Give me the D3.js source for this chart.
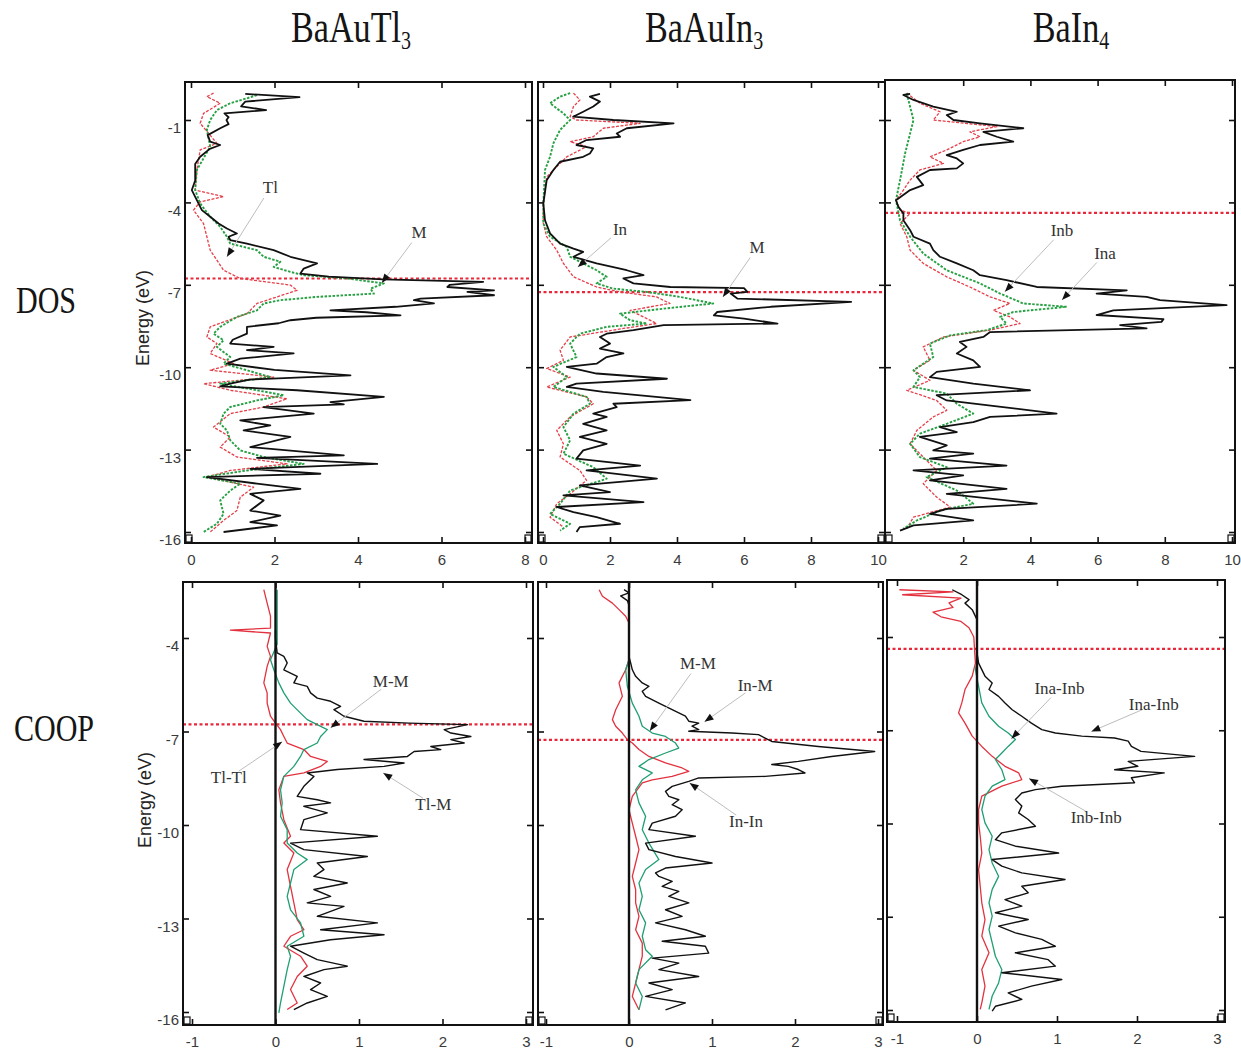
<!DOCTYPE html>
<html>
<head>
<meta charset="utf-8">
<script src="https://cdn.jsdelivr.net/npm/d3@7"></script>
<style>body{margin:0;background:#fff}</style>
</head>
<body>
<script>
// ---- data: [energy (eV), value] ----
var compounds = ["BaAuTl", "BaAuIn", "BaIn"];
var compoundSubs = ["3", "3", "4"];
var rowNames = ["DOS", "COOP"];
var fermiLevels = [-6.77, -7.27, -4.38];
var dosXTicks = [[0, 2, 4, 6, 8], [0, 2, 4, 6, 8, 10], [2, 4, 6, 8, 10]];
var coopXTicks = [-1, 0, 1, 2, 3];
var dosYTicks = [-1, -4, -7, -10, -13, -16];
var coopYTicks = [-4, -7, -10, -13, -16];

// BaAuTl3 DOS
var tlTotal = [[-0.05,1.3],[-0.17,2.6],[-0.33,1.3],[-0.5,1.2],[-0.64,1.8],[-0.76,0.8],[-0.9,0.9],[-1.0,0.85],[-1.15,0.9],[-1.3,0.7],[-1.55,0.4],[-1.79,0.46],[-1.91,0.7],[-2.05,0.45],[-2.34,0.22],[-2.6,0.1],[-3.2,0.1],[-3.55,0.02],[-3.92,0.14],[-4.28,0.26],[-4.52,0.46],[-4.77,0.66],[-4.95,0.86],[-5.13,1.1],[-5.25,0.9],[-5.37,0.94],[-5.5,1.34],[-5.74,1.98],[-5.98,2.38],[-6.1,2.7],[-6.22,3.02],[-6.41,2.7],[-6.59,2.62],[-6.7,3.3],[-6.8,4.6],[-6.89,7.0],[-7.0,6.2],[-7.08,6.14],[-7.2,7.26],[-7.26,6.62],[-7.38,7.26],[-7.5,5.5],[-7.56,5.34],[-7.68,5.82],[-7.8,4.9],[-7.93,3.34],[-8.0,4.2],[-8.11,5.02],[-8.2,3.0],[-8.29,2.38],[-8.4,2.1],[-8.53,1.34],[-8.78,1.34],[-9.0,1.0],[-9.14,0.94],[-9.26,1.98],[-9.38,1.34],[-9.5,2.46],[-9.69,1.18],[-9.87,0.86],[-10.1,2.0],[-10.3,3.82],[-10.45,1.4],[-10.6,0.94],[-10.7,0.7],[-10.84,2.54],[-11.08,4.62],[-11.27,3.34],[-11.35,3.66],[-11.45,1.74],[-11.69,2.94],[-11.94,1.18],[-12.12,1.9],[-12.3,1.26],[-12.54,2.38],[-12.91,1.42],[-13.21,3.66],[-13.3,1.58],[-13.52,4.46],[-13.7,1.42],[-13.88,3.1],[-14.0,0.38],[-14.24,1.58],[-14.43,2.62],[-14.61,1.42],[-14.85,1.74],[-15.22,1.42],[-15.4,2.14],[-15.64,1.42],[-15.76,2.06],[-16.0,0.78]];
var tlM = [[-0.09,1.58],[-0.21,1.34],[-0.39,0.94],[-0.64,0.62],[-1.0,0.46],[-1.36,0.38],[-1.97,0.46],[-2.82,0.14],[-3.55,0.1],[-4.04,0.22],[-4.52,0.46],[-4.89,0.7],[-5.25,0.86],[-5.5,0.94],[-5.74,1.58],[-5.98,1.74],[-6.16,2.14],[-6.35,1.98],[-6.53,2.38],[-6.65,2.7],[-6.77,3.74],[-6.95,4.62],[-7.14,4.3],[-7.32,4.38],[-7.44,3.02],[-7.56,2.14],[-7.68,1.74],[-7.93,1.58],[-8.17,1.1],[-8.53,0.7],[-8.78,0.54],[-9.02,0.78],[-9.26,0.62],[-9.63,0.94],[-9.87,0.78],[-10.11,1.34],[-10.36,1.9],[-10.6,0.7],[-10.84,1.58],[-11.02,2.22],[-11.21,1.58],[-11.45,0.94],[-11.69,0.78],[-12.06,0.7],[-12.3,0.86],[-12.66,0.94],[-13.03,1.18],[-13.27,1.74],[-13.52,2.7],[-13.76,1.34],[-14.0,0.3],[-14.24,1.18],[-14.49,0.94],[-14.85,0.7],[-15.34,0.78],[-15.7,0.62],[-16.0,0.3]];
var tlTl = [[-0.02,0.54],[-0.15,0.38],[-0.39,0.7],[-0.76,0.3],[-1.12,0.22],[-1.85,0.62],[-2.09,0.22],[-2.82,0.14],[-3.55,0.1],[-3.79,0.78],[-3.98,0.22],[-4.28,0.06],[-4.77,0.3],[-5.25,0.38],[-5.74,0.46],[-6.1,0.62],[-6.47,0.78],[-6.77,1.18],[-7.01,2.38],[-7.2,2.54],[-7.44,2.06],[-7.68,1.58],[-8.05,1.34],[-8.53,0.46],[-8.9,0.38],[-9.14,0.62],[-9.5,0.46],[-9.87,1.02],[-10.11,0.46],[-10.36,1.98],[-10.6,0.3],[-10.84,0.94],[-11.15,2.3],[-11.45,1.74],[-11.69,0.94],[-12.18,0.54],[-12.54,0.94],[-12.91,0.7],[-13.27,1.1],[-13.52,2.3],[-13.76,0.94],[-14.0,0.38],[-14.37,1.5],[-14.73,1.18],[-15.22,1.1],[-15.58,0.78],[-16.0,0.46]];

// BaAuIn3 DOS
var inTotal = [[-0.05,1.7],[-0.15,1.4],[-0.33,1.7],[-0.51,1.5],[-0.7,1.2],[-0.88,0.9],[-1.0,2.1],[-1.12,3.9],[-1.3,2.5],[-1.49,2.2],[-1.61,2.3],[-1.73,1.3],[-1.91,1.0],[-2.03,1.5],[-2.22,1.4],[-2.34,1.2],[-2.52,0.51],[-2.82,0.31],[-3.19,0.11],[-4.04,0.01],[-4.65,0.06],[-5.13,0.21],[-5.5,0.51],[-5.68,0.91],[-5.8,1.2],[-5.98,0.91],[-6.22,1.6],[-6.47,2.5],[-6.65,3.0],[-6.77,2.4],[-6.95,2.7],[-7.08,3.8],[-7.12,6.0],[-7.26,6.1],[-7.32,5.6],[-7.5,5.8],[-7.62,9.2],[-7.8,6.8],[-7.99,5.2],[-8.11,5.1],[-8.23,6.0],[-8.41,7.0],[-8.47,3.6],[-8.65,2.7],[-8.78,1.9],[-8.9,1.7],[-9.14,2.0],[-9.32,1.7],[-9.5,2.4],[-9.63,1.9],[-9.87,1.6],[-9.99,0.71],[-10.23,1.6],[-10.42,3.7],[-10.6,1.0],[-10.72,0.71],[-10.9,1.8],[-11.2,4.4],[-11.33,2.1],[-11.45,2.2],[-11.69,1.5],[-11.81,1.9],[-12.06,1.2],[-12.3,1.9],[-12.54,1.1],[-12.79,1.9],[-13.03,1.2],[-13.33,1.0],[-13.58,2.9],[-13.76,1.3],[-14.06,3.4],[-14.3,1.1],[-14.55,2.0],[-14.67,0.61],[-14.91,3.0],[-15.09,0.41],[-15.28,0.91],[-15.46,1.6],[-15.7,2.3],[-15.82,1.1],[-16.0,1.0]];
var inM = [[-0.02,0.81],[-0.15,0.51],[-0.39,0.21],[-0.76,0.61],[-1.0,0.81],[-1.36,0.51],[-1.85,0.31],[-2.34,0.21],[-2.82,0.06],[-4.04,0.01],[-4.77,0.01],[-5.25,0.21],[-5.62,0.71],[-5.98,0.81],[-6.22,1.2],[-6.47,1.6],[-6.71,1.9],[-6.95,1.6],[-7.14,2.1],[-7.26,3.1],[-7.44,4.09],[-7.68,5.08],[-7.87,3.59],[-8.05,2.3],[-8.29,2.6],[-8.41,3.1],[-8.53,1.9],[-8.78,1.1],[-9.14,0.81],[-9.63,1.0],[-9.99,0.31],[-10.36,0.71],[-10.72,0.31],[-11.08,1.3],[-11.33,1.4],[-11.69,0.91],[-12.18,0.61],[-12.66,0.81],[-13.15,0.61],[-13.64,1.5],[-14.06,1.9],[-14.49,0.81],[-14.97,0.51],[-15.34,0.21],[-15.7,0.81],[-15.95,0.51]];
var inIn = [[-0.02,0.91],[-0.27,1.1],[-0.51,0.91],[-0.88,0.81],[-1.0,1.0],[-1.12,2.9],[-1.3,1.8],[-1.61,1.5],[-1.79,0.81],[-1.97,1.3],[-2.34,0.71],[-2.7,0.41],[-3.07,0.11],[-4.04,0.01],[-4.77,0.01],[-5.25,0.11],[-5.74,0.41],[-6.22,0.61],[-6.71,0.91],[-7.08,1.6],[-7.26,2.3],[-7.44,3.39],[-7.68,3.79],[-7.93,2.6],[-8.17,3.0],[-8.41,3.39],[-8.59,2.4],[-8.9,0.81],[-9.38,0.51],[-9.75,0.61],[-10.05,0.11],[-10.36,0.81],[-10.72,0.11],[-11.08,1.3],[-11.33,1.5],[-11.81,0.81],[-12.3,0.41],[-12.79,0.61],[-13.27,0.51],[-13.76,1.1],[-14.12,1.3],[-14.61,0.81],[-14.97,0.41],[-15.46,0.21],[-15.82,0.61]];

// BaIn4 DOS
var in4Total = [[-0.05,0.42],[-0.09,0.22],[-0.27,0.52],[-0.51,1.11],[-0.7,1.81],[-0.82,1.51],[-1.0,1.71],[-1.12,2.5],[-1.3,3.79],[-1.43,2.6],[-1.61,3.0],[-1.79,3.49],[-1.91,2.5],[-2.09,2.0],[-2.28,1.51],[-2.4,1.81],[-2.58,2.0],[-2.76,1.81],[-2.82,1.01],[-3.07,0.62],[-3.37,0.81],[-3.55,0.42],[-3.92,0.0],[-4.16,0.07],[-4.4,0.22],[-4.65,0.22],[-5.01,0.42],[-5.25,0.52],[-5.5,1.01],[-5.74,1.11],[-5.98,1.31],[-6.22,1.81],[-6.47,2.3],[-6.65,2.5],[-6.83,3.29],[-7.08,4.19],[-7.2,6.87],[-7.32,5.97],[-7.44,7.46],[-7.56,7.86],[-7.74,9.84],[-7.93,6.47],[-8.1,5.97],[-8.25,7.96],[-8.35,7.9],[-8.47,6.67],[-8.59,7.46],[-8.72,2.8],[-8.9,2.6],[-9.08,1.9],[-9.26,2.1],[-9.5,1.81],[-9.75,2.3],[-9.99,2.5],[-10.17,1.21],[-10.36,1.01],[-10.6,2.3],[-10.84,3.99],[-11.02,1.21],[-11.21,1.51],[-11.45,3.19],[-11.69,4.78],[-11.81,2.8],[-12.0,2.3],[-12.18,1.31],[-12.36,1.81],[-12.54,0.71],[-12.85,1.51],[-13.03,1.11],[-13.15,2.3],[-13.33,1.01],[-13.58,3.29],[-13.76,0.52],[-13.94,2.0],[-14.12,1.01],[-14.43,3.29],[-14.61,1.51],[-14.97,4.19],[-15.16,1.51],[-15.34,1.01],[-15.58,2.3],[-15.76,0.52],[-15.95,0.12]];
var in4Ina = [[-0.03,0.32],[-1.0,0.52],[-2.22,0.27],[-3.19,0.12],[-3.92,0.0],[-4.65,0.12],[-5.25,0.42],[-5.86,0.81],[-6.47,1.51],[-6.95,2.5],[-7.32,3.1],[-7.68,3.79],[-7.8,5.08],[-7.99,3.49],[-8.17,3.1],[-8.41,3.29],[-8.65,2.7],[-8.84,1.61],[-9.14,1.01],[-9.63,1.11],[-10.11,0.52],[-10.36,0.71],[-10.72,0.52],[-10.96,1.51],[-11.33,1.81],[-11.69,2.3],[-12.06,1.51],[-12.42,0.71],[-12.79,0.42],[-13.27,0.71],[-13.64,1.51],[-14.0,0.91],[-14.49,1.81],[-14.97,2.3],[-15.22,1.31],[-15.58,0.62],[-15.88,0.22]];
var in4Inb = [[-0.02,0.32],[-0.39,0.71],[-0.7,1.31],[-1.0,1.11],[-1.24,3.0],[-1.43,2.2],[-1.61,2.5],[-1.79,2.0],[-2.09,1.51],[-2.34,1.01],[-2.58,1.41],[-2.82,0.71],[-3.19,0.42],[-3.55,0.22],[-3.92,0.0],[-4.28,0.12],[-4.4,0.42],[-4.77,0.12],[-5.25,0.32],[-5.74,0.42],[-6.22,0.81],[-6.71,1.51],[-7.08,2.2],[-7.44,2.8],[-7.68,3.39],[-7.93,2.9],[-8.17,3.39],[-8.41,3.69],[-8.65,2.8],[-8.9,1.41],[-9.26,0.81],[-9.75,1.01],[-10.11,0.52],[-10.48,1.01],[-10.84,0.32],[-11.21,1.21],[-11.57,1.51],[-11.81,1.11],[-12.3,0.62],[-12.79,0.42],[-13.27,0.81],[-13.76,1.21],[-14.24,0.81],[-14.73,1.21],[-15.09,1.61],[-15.46,0.52],[-15.88,0.32]];

// BaAuTl3 COOP
var coopTlM = [[-3.75,0],[-4.0,0],[-4.48,0.02],[-4.59,0.1],[-4.8,0.14],[-5.02,0.1],[-5.23,0.26],[-5.44,0.22],[-5.55,0.38],[-5.76,0.42],[-5.93,0.5],[-6.03,0.66],[-6.19,0.78],[-6.3,0.7],[-6.51,0.82],[-6.67,1.06],[-6.73,1.6],[-6.78,2.3],[-6.94,2.02],[-7.05,2.1],[-7.16,2.34],[-7.26,2.1],[-7.37,2.26],[-7.48,1.86],[-7.58,1.98],[-7.64,1.66],[-7.8,1.58],[-7.9,1.06],[-8.01,1.54],[-8.12,1.3],[-8.22,0.74],[-8.33,0.38],[-8.44,0.46],[-8.76,0.34],[-9.08,0.26],[-9.19,0.5],[-9.29,0.66],[-9.4,0.34],[-9.61,0.62],[-9.83,0.34],[-10.15,0.3],[-10.36,1.22],[-10.58,0.18],[-10.79,0.34],[-11.01,1.1],[-11.22,0.5],[-11.43,0.58],[-11.65,0.46],[-11.86,0.86],[-12.07,0.46],[-12.29,0.66],[-12.5,0.38],[-12.61,0.82],[-12.93,0.5],[-13.14,1.22],[-13.36,0.54],[-13.52,1.3],[-13.68,0.66],[-13.89,0.18],[-14.11,0.34],[-14.32,0.5],[-14.53,0.86],[-14.64,0.58],[-14.86,0.34],[-15.07,0.54],[-15.28,0.42],[-15.5,0.62],[-15.71,0.38],[-15.92,0.22]];
var coopTlMM = [[-2.45,0.02],[-4.2,0.02],[-4.7,-0.06],[-5.02,-0.02],[-5.44,0.04],[-5.76,0.1],[-6.09,0.18],[-6.41,0.3],[-6.62,0.38],[-6.78,0.5],[-6.94,0.62],[-7.16,0.54],[-7.37,0.5],[-7.58,0.34],[-7.8,0.3],[-8.12,0.22],[-8.44,0.1],[-8.87,0.06],[-9.29,0.08],[-9.72,0.06],[-10.15,0.14],[-10.58,0.14],[-10.9,0.26],[-11.11,0.38],[-11.43,0.22],[-11.86,0.18],[-12.29,0.14],[-12.72,0.18],[-13.14,0.3],[-13.57,0.34],[-13.89,0.14],[-14.21,0.18],[-14.64,0.14],[-15.18,0.1],[-15.71,0.06],[-16.03,0.04]];
var coopTlTl = [[-2.45,-0.14],[-2.88,-0.1],[-3.3,-0.06],[-3.68,-0.06],[-3.75,-0.54],[-3.84,-0.06],[-4.27,-0.1],[-4.59,-0.06],[-4.91,-0.1],[-5.44,-0.14],[-5.76,-0.1],[-6.09,-0.1],[-6.51,-0.06],[-6.73,0],[-6.94,0.06],[-7.16,0.1],[-7.37,0.14],[-7.58,0.34],[-7.8,0.42],[-7.96,0.62],[-8.12,0.54],[-8.33,0.34],[-8.44,0.1],[-8.87,0.04],[-9.29,0.06],[-9.83,0.1],[-10.36,0.18],[-10.58,0.1],[-10.9,0.22],[-11.43,0.14],[-11.97,0.18],[-12.5,0.22],[-13.04,0.26],[-13.36,0.34],[-13.57,0.18],[-13.89,0.1],[-14.21,0.3],[-14.53,0.38],[-14.86,0.26],[-15.28,0.18],[-15.71,0.26],[-15.92,0.14]];

// BaAuIn3 COOP
var coopInM = [[-2.45,-0.06],[-2.55,0.0],[-2.65,-0.1],[-2.8,-0.02],[-2.95,0],[-4.6,0],[-4.8,0.02],[-5.02,0.04],[-5.23,0.08],[-5.44,0.16],[-5.55,0.24],[-5.71,0.16],[-5.87,0.2],[-6.09,0.36],[-6.3,0.52],[-6.51,0.68],[-6.67,0.72],[-6.73,0.84],[-6.83,0.76],[-6.94,0.84],[-6.99,0.72],[-7.05,1.24],[-7.1,1.56],[-7.21,1.64],[-7.32,1.72],[-7.48,2.28],[-7.64,2.96],[-7.8,2.44],[-7.96,2.04],[-8.06,1.72],[-8.12,1.92],[-8.22,2.04],[-8.33,2.12],[-8.44,1.64],[-8.49,0.84],[-8.6,0.72],[-8.76,0.52],[-8.92,0.44],[-9.08,0.48],[-9.19,0.6],[-9.35,0.52],[-9.51,0.64],[-9.72,0.56],[-9.94,0.28],[-10.15,0.24],[-10.36,0.8],[-10.58,0.2],[-10.79,0.24],[-11.01,0.56],[-11.22,1.0],[-11.38,0.44],[-11.54,0.32],[-11.65,0.36],[-11.81,0.52],[-11.97,0.4],[-12.13,0.6],[-12.29,0.48],[-12.5,0.72],[-12.72,0.44],[-12.93,0.64],[-13.14,0.32],[-13.36,0.68],[-13.57,0.92],[-13.73,0.4],[-13.89,0.92],[-14.11,0.96],[-14.27,0.28],[-14.43,0.6],[-14.64,0.36],[-14.86,0.84],[-15.07,0.24],[-15.28,0.52],[-15.5,0.2],[-15.71,0.68],[-15.93,0.44]];
var coopInMM = [[-2.45,0],[-4.7,0],[-5.02,-0.04],[-5.55,-0.02],[-6.09,0.04],[-6.51,0.12],[-6.83,0.16],[-7.05,0.28],[-7.16,0.44],[-7.37,0.56],[-7.53,0.6],[-7.69,0.44],[-7.9,0.24],[-8.12,0.12],[-8.33,0.28],[-8.55,0.16],[-8.87,0.08],[-9.29,0.12],[-9.72,0.2],[-10.15,0.16],[-10.58,0.24],[-11.11,0.36],[-11.43,0.2],[-11.86,0.12],[-12.29,0.16],[-12.72,0.12],[-13.14,0.2],[-13.57,0.16],[-14.0,0.2],[-14.21,0.28],[-14.64,0.12],[-15.07,0.08],[-15.5,0.16],[-15.93,0.12]];
var coopInIn = [[-2.45,-0.36],[-2.66,-0.32],[-2.88,-0.2],[-3.09,-0.12],[-3.3,-0.04],[-3.52,0],[-4.7,0],[-5.02,-0.04],[-5.44,-0.12],[-5.87,-0.08],[-6.3,-0.16],[-6.62,-0.2],[-6.83,-0.16],[-7.05,-0.08],[-7.26,-0.02],[-7.37,0.04],[-7.58,0.12],[-7.8,0.24],[-8.01,0.44],[-8.17,0.64],[-8.28,0.72],[-8.44,0.52],[-8.55,0.28],[-8.65,0.16],[-9.08,0.04],[-9.51,0],[-9.94,0.04],[-10.36,0.08],[-10.79,0.12],[-11.22,0.08],[-11.65,0.04],[-12.07,0.08],[-12.5,0.08],[-12.93,0.12],[-13.36,0.08],[-13.79,0.16],[-14.21,0.16],[-14.64,0.12],[-15.07,0.08],[-15.5,0.04],[-15.93,0.12]];

// BaIn4 COOP
var coopIn4AB = [[-2.48,-0.31],[-2.64,-0.19],[-2.8,-0.1],[-2.91,-0.15],[-3.12,-0.06],[-3.44,0],[-4.51,0],[-4.84,0.02],[-5.05,0.06],[-5.26,0.1],[-5.48,0.19],[-5.69,0.15],[-5.91,0.27],[-6.12,0.35],[-6.34,0.44],[-6.55,0.56],[-6.77,0.68],[-6.98,0.81],[-7.09,0.98],[-7.19,1.31],[-7.25,1.72],[-7.35,1.89],[-7.52,1.93],[-7.68,2.05],[-7.84,2.72],[-8.0,1.89],[-8.16,2.01],[-8.27,1.72],[-8.37,2.34],[-8.53,1.93],[-8.69,1.97],[-8.8,1.06],[-8.91,0.73],[-9.02,0.56],[-9.23,0.48],[-9.44,0.56],[-9.66,0.52],[-9.87,0.64],[-10.09,0.73],[-10.3,0.31],[-10.52,0.23],[-10.73,0.48],[-10.95,1.02],[-11.16,0.19],[-11.37,0.31],[-11.59,0.56],[-11.8,1.1],[-12.02,0.56],[-12.23,0.64],[-12.45,0.35],[-12.66,0.56],[-12.87,0.23],[-13.09,0.64],[-13.3,0.27],[-13.52,0.48],[-13.73,0.81],[-13.95,0.98],[-14.16,0.48],[-14.38,0.89],[-14.59,0.98],[-14.8,0.31],[-15.02,1.06],[-15.23,0.68],[-15.45,0.39],[-15.66,0.56],[-15.88,0.23],[-16.04,0.19]];
var coopIn4AB2 = [[-2.5,0],[-4.8,0],[-5.05,-0.02],[-5.59,0.02],[-6.12,0.06],[-6.55,0.15],[-6.87,0.27],[-7.09,0.39],[-7.3,0.48],[-7.52,0.39],[-7.73,0.31],[-7.94,0.23],[-8.27,0.31],[-8.59,0.35],[-8.8,0.19],[-9.12,0.1],[-9.55,0.06],[-9.98,0.1],[-10.41,0.19],[-10.84,0.15],[-11.27,0.19],[-11.7,0.27],[-12.12,0.19],[-12.55,0.15],[-12.98,0.19],[-13.41,0.15],[-13.84,0.19],[-14.27,0.23],[-14.7,0.31],[-15.13,0.27],[-15.55,0.19],[-15.98,0.15]];
var coopIn4BB = [[-2.48,-0.97],[-2.55,-0.3],[-2.64,-0.93],[-2.75,-0.2],[-2.9,-0.35],[-3.05,-0.3],[-3.2,-0.55],[-3.35,-0.45],[-3.5,-0.2],[-3.7,-0.1],[-4.0,-0.04],[-4.84,-0.02],[-5.26,-0.06],[-5.69,-0.15],[-6.12,-0.19],[-6.44,-0.23],[-6.77,-0.15],[-7.19,-0.06],[-7.52,0.06],[-7.84,0.19],[-8.16,0.35],[-8.37,0.52],[-8.59,0.56],[-8.8,0.31],[-9.12,0.06],[-9.55,0.02],[-9.98,0.02],[-10.41,0.04],[-10.95,0.06],[-11.48,0.02],[-12.02,0.04],[-12.55,0.06],[-13.09,0.1],[-13.62,0.06],[-14.16,0.15],[-14.7,0.06],[-15.23,0.1],[-15.77,0.06],[-15.98,0.04]];

// labels: text, label centre [value, energy], arrow tip [value, energy]
var notesTlDos = [{t: "Tl", at: [1.9, -3.47], tip: [0.86, -5.98]}, {t: "M", at: [5.46, -5.11], tip: [4.57, -6.93]}];
var notesInDos = [{t: "In", at: [2.3, -5.0], tip: [1.04, -6.35]}, {t: "M", at: [6.39, -5.65], tip: [5.37, -7.44]}];
var notesIn4Dos = [{t: "Inb", at: [4.94, -5.04], tip: [3.24, -7.25]}, {t: "Ina", at: [6.22, -5.87], tip: [4.94, -7.55]}];
var notesTlCoop = [{t: "M-M", at: [1.38, -5.41], tip: [0.66, -6.88]}, {t: "Tl-Tl", at: [-0.56, -8.49], tip: [0.08, -7.33]}, {t: "Tl-M", at: [1.89, -9.35], tip: [1.29, -8.33]}];
var notesInCoop = [{t: "M-M", at: [0.83, -4.83], tip: [0.25, -6.98]}, {t: "In-M", at: [1.52, -5.54], tip: [0.91, -6.69]}, {t: "In-In", at: [1.41, -9.9], tip: [0.73, -8.65]}];
var notesIn4Coop = [{t: "Ina-Inb", at: [1.03, -5.67], tip: [0.43, -7.27]}, {t: "Ina-Inb", at: [2.21, -6.18], tip: [1.43, -7.04]}, {t: "Inb-Inb", at: [1.49, -9.8], tip: [0.65, -8.55]}];

// ---- layout ----
var W = 1241, H = 1053;
var svg = d3.select("body").append("svg")
    .attr("width", W)
    .attr("height", H)
    .style("font-family", "'Liberation Sans', Arial, sans-serif");
svg.append("rect").attr("width", W).attr("height", H).attr("fill", "#fff");

var panels = [
    {f: [185, 82, 532, 543], xd: [0, 8], xr: [191, 525], yd: [-1, -16], yr: [120, 532], xt: dosXTicks[0], yt: dosYTicks, ylab: true, ef: fermiLevels[0], coop: false, curves: [tlTl, tlM, tlTotal], notes: notesTlDos},
    {f: [538, 82, 885, 543], xd: [0, 10], xr: [543, 878], yd: [-1, -16], yr: [120, 532], xt: dosXTicks[1], yt: dosYTicks, ylab: false, ef: fermiLevels[1], coop: false, curves: [inIn, inM, inTotal], notes: notesInDos},
    {f: [885, 80, 1235, 543], xd: [0, 10], xr: [896, 1232], yd: [-1, -16], yr: [120, 532], xt: dosXTicks[2], yt: dosYTicks, ylab: false, ef: fermiLevels[2], coop: false, curves: [in4Inb, in4Ina, in4Total], notes: notesIn4Dos},
    {f: [183, 582, 533, 1025], xd: [-1, 3], xr: [192, 526], yd: [-4, -16], yr: [638, 1012], xt: coopXTicks, yt: coopYTicks, ylab: true, ef: fermiLevels[0], coop: true, curves: [coopTlTl, coopTlMM, coopTlM], notes: notesTlCoop},
    {f: [538, 582, 883, 1025], xd: [-1, 3], xr: [546, 878], yd: [-4, -16], yr: [638, 1012], xt: coopXTicks, yt: coopYTicks, ylab: false, ef: fermiLevels[1], coop: true, curves: [coopInIn, coopInMM, coopInM], notes: notesInCoop},
    {f: [887, 580, 1225, 1022], xd: [-1, 3], xr: [897, 1217], yd: [-4, -16], yr: [637, 1010], xt: coopXTicks, yt: coopYTicks, ylab: false, ef: fermiLevels[2], coop: true, curves: [coopIn4BB, coopIn4AB2, coopIn4AB], notes: notesIn4Coop}
];

var dosStyle = [
    {c: "#e5404a", w: 1.3, d: "3,1.5"},
    {c: "#26a043", w: 1.9, d: "2.5,1.5"},
    {c: "#111", w: 1.8, d: null}
];
var coopStyle = [
    {c: "#e3323f", w: 1.3, d: null},
    {c: "#1f9f72", w: 1.3, d: null},
    {c: "#111", w: 1.4, d: null}
];

function label(d) { return String(d); }

panels.forEach(function(p, i) {
    var f = p.f;
    var x = d3.scaleLinear().domain(p.xd).range(p.xr);
    var y = d3.scaleLinear().domain(p.yd).range(p.yr);
    var g = svg.append("g");

    var clipId = "clip" + i;
    svg.append("clipPath").attr("id", clipId)
        .append("rect")
        .attr("x", f[0]).attr("y", f[1])
        .attr("width", f[2] - f[0]).attr("height", f[3] - f[1]);

    // Fermi level
    g.append("line")
        .attr("x1", f[0]).attr("x2", f[2])
        .attr("y1", y(p.ef)).attr("y2", y(p.ef))
        .attr("stroke", "#e8283a")
        .attr("stroke-width", 2.2)
        .attr("stroke-dasharray", "3,2.5");

    // curves
    var line = d3.line()
        .x(function(d) { return x(d[1]); })
        .y(function(d) { return y(d[0]); });
    var styles = p.coop ? coopStyle : dosStyle;
    var cg = g.append("g").attr("clip-path", "url(#" + clipId + ")");
    p.curves.forEach(function(c, k) {
        var s = styles[k];
        cg.append("path")
            .datum(c)
            .attr("d", line)
            .attr("fill", "none")
            .attr("stroke", s.c)
            .attr("stroke-width", s.w)
            .attr("stroke-linejoin", "round")
            .attr("stroke-dasharray", s.d);
    });

    // zero line for COOP
    if (p.coop) {
        g.append("line")
            .attr("x1", x(0)).attr("x2", x(0))
            .attr("y1", f[1]).attr("y2", f[3])
            .attr("stroke", "#111")
            .attr("stroke-width", 2.4);
    }

    // axes (inward ticks)
    var ax = [];
    ax.push(g.append("g").attr("transform", "translate(0," + f[3] + ")")
        .call(d3.axisBottom(x).tickValues(p.xt).tickSize(-6).tickPadding(11).tickFormat(label)));
    ax.push(g.append("g").attr("transform", "translate(0," + f[1] + ")")
        .call(d3.axisTop(x).tickValues(p.xt).tickSize(-6).tickFormat("")));
    var left = g.append("g").attr("transform", "translate(" + f[0] + ",0)")
        .call(d3.axisLeft(y).tickValues(p.yt).tickSize(-6).tickPadding(4)
            .tickFormat(p.ylab ? label : ""));
    left.selectAll("text").attr("dy", "0.85em");
    ax.push(left);
    ax.push(g.append("g").attr("transform", "translate(" + f[2] + ",0)")
        .call(d3.axisRight(y).tickValues(p.yt).tickSize(-6).tickFormat("")));
    ax.forEach(function(a) {
        a.select(".domain").remove();
        a.selectAll("line").attr("stroke", "#111").attr("stroke-width", 1.6);
        a.selectAll("text")
            .attr("fill", "#3a3a3a")
            .style("font-size", "15px")
            .style("font-family", "'Liberation Sans', Arial, sans-serif");
    });

    // frame
    g.append("rect")
        .attr("x", f[0]).attr("y", f[1])
        .attr("width", f[2] - f[0]).attr("height", f[3] - f[1])
        .attr("fill", "none")
        .attr("stroke", "#111")
        .attr("stroke-width", 2);

    // small corner boxes at the bottom of each frame
    [f[0] + 1, f[2] - 7].forEach(function(cx) {
        g.append("rect")
            .attr("x", cx).attr("y", f[3] - 8)
            .attr("width", 6).attr("height", 7)
            .attr("fill", "none")
            .attr("stroke", "#111")
            .attr("stroke-width", 1.2);
    });

    // labels with leader arrows
    p.notes.forEach(function(n) {
        var lx = x(n.at[0]), ly = y(n.at[1]);
        var tx = x(n.tip[0]), ty = y(n.tip[1]);
        var dx = tx - lx, dy = ty - ly, len = Math.sqrt(dx * dx + dy * dy);
        var ux = dx / len, uy = dy / len;
        g.append("line")
            .attr("x1", lx + ux * 12).attr("y1", ly + uy * 12)
            .attr("x2", tx).attr("y2", ty)
            .attr("stroke", "#bdbdbd")
            .attr("stroke-width", 1);
        var bx = tx - ux * 9, by = ty - uy * 9;
        g.append("path")
            .attr("d", "M" + tx + "," + ty +
                "L" + (bx - uy * 3.5) + "," + (by + ux * 3.5) +
                "L" + (bx + uy * 3.5) + "," + (by - ux * 3.5) + "Z")
            .attr("fill", "#111");
        g.append("text")
            .attr("x", lx).attr("y", ly)
            .attr("text-anchor", "middle")
            .attr("dominant-baseline", "central")
            .style("font-family", "'Liberation Serif', 'Times New Roman', serif")
            .style("font-size", "17px")
            .attr("fill", "#333")
            .text(n.t);
    });
});

// compound titles
var titleX = [351, 704, 1071];
compounds.forEach(function(c, i) {
    var t = svg.append("text")
        .attr("transform", "translate(" + titleX[i] + ",42) scale(0.95,1.22)")
        .attr("text-anchor", "middle")
        .style("font-family", "'Liberation Serif', 'Times New Roman', serif")
        .style("font-size", "36px")
        .attr("fill", "#151515");
    t.append("tspan").text(c);
    t.append("tspan").attr("dy", 6).style("font-size", "21px").text(compoundSubs[i]);
});

// row labels
var rowY = [313, 741], rowX = [46, 54];
rowNames.forEach(function(r, i) {
    svg.append("text")
        .attr("transform", "translate(" + rowX[i] + "," + rowY[i] + ") scale(0.97,1.25)")
        .attr("text-anchor", "middle")
        .style("font-family", "'Liberation Serif', 'Times New Roman', serif")
        .style("font-size", "31px")
        .attr("fill", "#151515")
        .text(r);
});

// y axis titles
[[143, 318], [145, 800]].forEach(function(pos) {
    svg.append("text")
        .attr("transform", "translate(" + pos[0] + "," + pos[1] + ") rotate(-90)")
        .attr("text-anchor", "middle")
        .attr("dominant-baseline", "central")
        .style("font-size", "18px")
        .attr("fill", "#222")
        .text("Energy (eV)");
});
</script>
</body>
</html>
